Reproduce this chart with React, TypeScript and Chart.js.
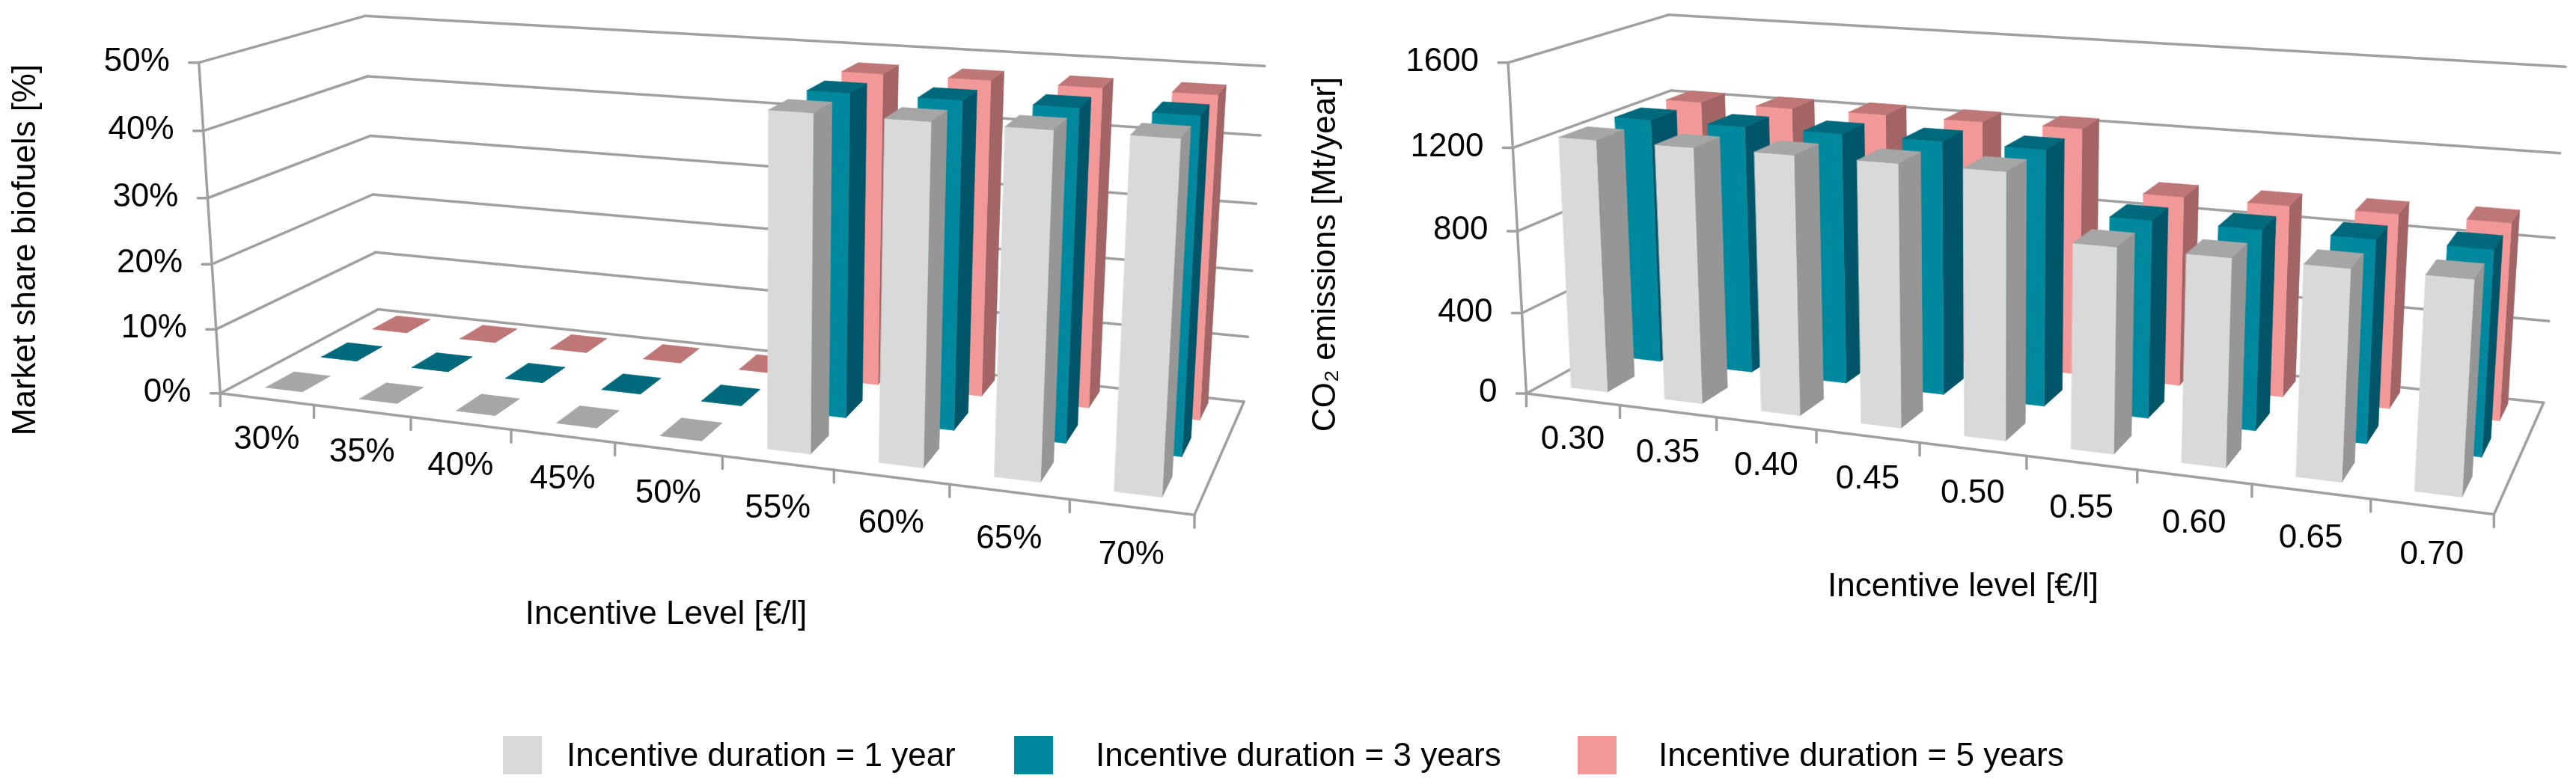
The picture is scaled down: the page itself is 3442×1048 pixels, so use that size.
import React, { useEffect, useRef } from "react";
import { Chart, registerables } from "chart.js";

Chart.register(...registerables);

const marketLevels = ["30%", "35%", "40%", "45%", "50%", "55%", "60%", "65%", "70%"];
const marketOneYear = [0, 0, 0, 0, 0, 47.7, 47.6, 47.6, 47.6];
const marketThreeYears = [0, 0, 0, 0, 0, 47.5, 47.5, 47.5, 47.5];
const marketFiveYears = [0, 0, 0, 0, 0, 47.5, 47.5, 47.4, 47.4];

const co2Levels = ["0.30", "0.35", "0.40", "0.45", "0.50", "0.55", "0.60", "0.65", "0.70"];
const co2OneYear = [1231, 1232, 1235, 1235, 1237, 944, 942, 942, 944];
const co2ThreeYears = [1228, 1229, 1231, 1231, 1229, 940, 941, 941, 941];
const co2FiveYears = [1221, 1222, 1225, 1224, 1226, 933, 932, 935, 937];

const seriesNames = ["Incentive duration = 1 year", "Incentive duration = 3 years", "Incentive duration = 5 years"];
const FONT = '44px "Liberation Sans", Arial, sans-serif';

const faces = [
  { front: "#d9d9d9", side: "#969696", top: "#a6a6a6" },
  { front: "#00889f", side: "#005568", top: "#006a7c" },
  { front: "#f29898", side: "#a26464", top: "#bf7676" },
];
const rowFront = [0.1, 0.44, 0.78];
const rowDepth = 0.17;
const barWidth = 0.39;

type Ctrl = [number, number, number, number, number];

// Camera fit: control points are the box corners and ticks seen on the page (u, v, w, px, py).
function fitCamera(pts: Ctrl[]) {
  const n = 11;
  const A = Array.from({ length: n }, () => new Array(n + 1).fill(0));
  const add = (row: number[], rhs: number) => {
    for (let i = 0; i < n; i++) {
      for (let j = 0; j < n; j++) A[i][j] += row[i] * row[j];
      A[i][n] += row[i] * rhs;
    }
  };
  for (const [u, v, w, x, y] of pts) {
    add([u, v, w, 1, 0, 0, 0, 0, -x * u, -x * v, -x * w], x);
    add([0, 0, 0, 0, u, v, w, 1, -y * u, -y * v, -y * w], y);
  }
  for (let c = 0; c < n; c++) {
    let p = c;
    for (let r = c + 1; r < n; r++) if (Math.abs(A[r][c]) > Math.abs(A[p][c])) p = r;
    [A[c], A[p]] = [A[p], A[c]];
    for (let r = 0; r < n; r++) {
      if (r === c) continue;
      const f = A[r][c] / A[c][c];
      for (let k = c; k <= n; k++) A[r][k] -= f * A[c][k];
    }
  }
  const m = A.map((r, i) => r[n] / r[i]);
  return (u: number, v: number, w: number): [number, number] => {
    const d = m[8] * u + m[9] * v + m[10] * w + 1;
    return [(m[0] * u + m[1] * v + m[2] * w + m[3]) / d, (m[4] * u + m[5] * v + m[6] * w + m[7]) / d];
  };
}

const leftBox: Ctrl[] = [
  [0, 0, 0, 294, 526], [1, 0, 0, 1596, 688], [1, 0, 1, 1662, 535], [0, 0, 1, 505, 414],
  [0, 1, 0, 266, 83], [0, 1, 1, 486, 21], [1, 1, 1, 1689, 89],
  [1 / 9, 0, 0, 419, 542], [3 / 9, 0, 0, 682, 574], [5 / 9, 0, 0, 965, 610], [7 / 9, 0, 0, 1269, 648],
  [0, 0.2, 0, 290, 440], [0, 0.6, 0, 278, 264], [0, 0.6, 1, 496, 182], [1, 0.6, 1, 1680, 273],
];
const rightBox: Ctrl[] = [
  [0, 0, 0, 321, 526], [1, 0, 0, 1611, 688], [1, 0, 1, 1679, 537], [0, 0, 1, 519, 414],
  [0, 1, 0, 292, 83], [0, 1, 1, 512, 21], [1, 1, 1, 1707, 89],
  [1 / 9, 0, 0, 444, 542], [3 / 9, 0, 0, 707, 574], [5 / 9, 0, 0, 987, 610], [7 / 9, 0, 0, 1287, 648],
  [0, 0.25, 0, 314, 418], [0, 0.75, 0, 298, 197], [1, 0.75, 1, 1699, 205],
];

type Panel = {
  box: Ctrl[];
  yTitle: string; yTitleX: number; yTitleY: number;
  xTitle: string; xTitleX: number; xTitleY: number;
};

function polygon(ctx: CanvasRenderingContext2D, pts: [number, number][], fill: string) {
  ctx.beginPath();
  pts.forEach((p, i) => (i ? ctx.lineTo(p[0], p[1]) : ctx.moveTo(p[0], p[1])));
  ctx.closePath();
  ctx.fillStyle = fill;
  ctx.fill();
  ctx.strokeStyle = fill;
  ctx.lineWidth = 0.6;
  ctx.stroke();
}

function makeBoxPlugin(panel: Panel) {
  const P = fitCamera(panel.box);
  return {
    id: "box3d",
    afterDatasetsDraw(chart: any) {
      const { ctx, scales } = chart;
      const sx = scales.x;
      const sy = scales.y;
      const count = chart.data.labels.length;
      const vOf = (val: number) => (sy.bottom - sy.getPixelForValue(val)) / (sy.bottom - sy.top);
      const line = (a: [number, number], b: [number, number]) => {
        ctx.beginPath();
        ctx.moveTo(a[0], a[1]);
        ctx.lineTo(b[0], b[1]);
        ctx.stroke();
      };
      ctx.save();
      ctx.strokeStyle = "#a0a0a0";
      ctx.lineWidth = 3.5;
      ctx.lineCap = "round";
      // walls and floor
      for (const t of sy.ticks) {
        const v = vOf(t.value);
        const front = P(0, v, 0);
        const back = P(0, v, 1);
        line([front[0] - 13, front[1]], front);
        line(front, back);
        line(back, P(1, v, 1));
      }
      line(P(0, 0, 0), P(0, 1, 0));
      line(P(0, 0, 0), P(1, 0, 0));
      line(P(1, 0, 0), P(1, 0, 1));
      for (let i = 0; i <= count; i++) {
        const p = P(i / count, 0, 0);
        line(p, [p[0], p[1] + 17]);
      }
      // columns, farthest row first
      for (let s = chart.data.datasets.length - 1; s >= 0; s--) {
        const data = chart.data.datasets[s].data as number[];
        const c = faces[s];
        const w0 = rowFront[s];
        const w1 = w0 + rowDepth;
        data.forEach((val, i) => {
          const centre = (sx.getPixelForValue(i) - sx.left) / (sx.right - sx.left);
          const u0 = centre - barWidth / 2 / count;
          const u1 = centre + barWidth / 2 / count;
          const v = vOf(val);
          polygon(ctx, [P(u1, 0, w0), P(u1, 0, w1), P(u1, v, w1), P(u1, v, w0)], c.side);
          polygon(ctx, [P(u0, 0, w0), P(u1, 0, w0), P(u1, v, w0), P(u0, v, w0)], c.front);
          polygon(ctx, [P(u0, v, w0), P(u1, v, w0), P(u1, v, w1), P(u0, v, w1)], c.top);
        });
      }
      // text
      ctx.fillStyle = "#000";
      ctx.font = FONT;
      ctx.textBaseline = "middle";
      ctx.textAlign = "right";
      for (const t of sy.ticks) {
        const p = P(0, vOf(t.value), 0);
        ctx.fillText(t.label, p[0] - 39, p[1] - 1);
      }
      ctx.textAlign = "center";
      chart.data.labels.forEach((label: string, i: number) => {
        const u = (sx.getPixelForValue(i) - sx.left) / (sx.right - sx.left);
        const p = P(u, 0, 0);
        ctx.fillText(label, p[0], p[1] + 54 + 11 * u);
      });
      ctx.fillText(panel.xTitle, panel.xTitleX, panel.xTitleY);
      ctx.translate(panel.yTitleX, panel.yTitleY);
      ctx.rotate(-Math.PI / 2);
      ctx.fillText(panel.yTitle, 0, 0);
      ctx.restore();
    },
  };
}

function Panel3D(props: {
  left: number; labels: string[]; series: number[][]; max: number; step: number;
  tickSuffix: string; panel: Panel;
}) {
  const ref = useRef<HTMLCanvasElement>(null);
  useEffect(() => {
    const chart = new Chart(ref.current as HTMLCanvasElement, {
      type: "bar",
      data: {
        labels: props.labels,
        datasets: props.series.map((data, s) => ({
          label: seriesNames[s],
          data,
          backgroundColor: "rgba(0,0,0,0)",
          borderWidth: 0,
        })),
      },
      options: {
        animation: false,
        responsive: false,
        devicePixelRatio: 1,
        plugins: { legend: { display: false }, tooltip: { enabled: false } },
        scales: {
          x: { display: false },
          y: {
            display: false,
            min: 0,
            max: props.max,
            ticks: { stepSize: props.step, callback: (v: any) => `${v}${props.tickSuffix}` },
          },
        },
      },
      plugins: [makeBoxPlugin(props.panel)],
    } as any);
    return () => chart.destroy();
  }, []);
  return (
    <canvas
      ref={ref}
      width={1721}
      height={1048}
      style={{ position: "absolute", left: props.left, top: 0, width: 1721, height: 1048 }}
    />
  );
}

const legendSwatches = [672, 1355, 2108];
const legendTexts = [757, 1464, 2216];

export default function App() {
  return (
    <div style={{ position: "absolute", left: 0, top: 0, width: 3442, height: 1048, overflow: "hidden", background: "#fff" }}>
      <Panel3D
        left={0}
        labels={marketLevels}
        series={[marketOneYear, marketThreeYears, marketFiveYears]}
        max={50}
        step={10}
        tickSuffix="%"
        panel={{
          box: leftBox,
          yTitle: "Market share biofuels [%]", yTitleX: 35, yTitleY: 334,
          xTitle: "Incentive Level [€/l]", xTitleX: 890, xTitleY: 822,
        }}
      />
      <Panel3D
        left={1721}
        labels={co2Levels}
        series={[co2OneYear, co2ThreeYears, co2FiveYears]}
        max={1600}
        step={400}
        tickSuffix=""
        panel={{
          box: rightBox,
          yTitle: "CO₂ emissions [Mt/year]", yTitleX: 51, yTitleY: 340,
          xTitle: "Incentive level [€/l]", xTitleX: 902, xTitleY: 785,
        }}
      />
      {seriesNames.map((name, s) => (
        <React.Fragment key={name}>
          <div style={{ position: "absolute", left: legendSwatches[s], top: 984, width: 52, height: 51, background: faces[s].front }} />
          <div style={{ position: "absolute", left: legendTexts[s], top: 984, height: 51, lineHeight: "51px", font: FONT, color: "#000", whiteSpace: "nowrap" }}>
            {name}
          </div>
        </React.Fragment>
      ))}
    </div>
  );
}
